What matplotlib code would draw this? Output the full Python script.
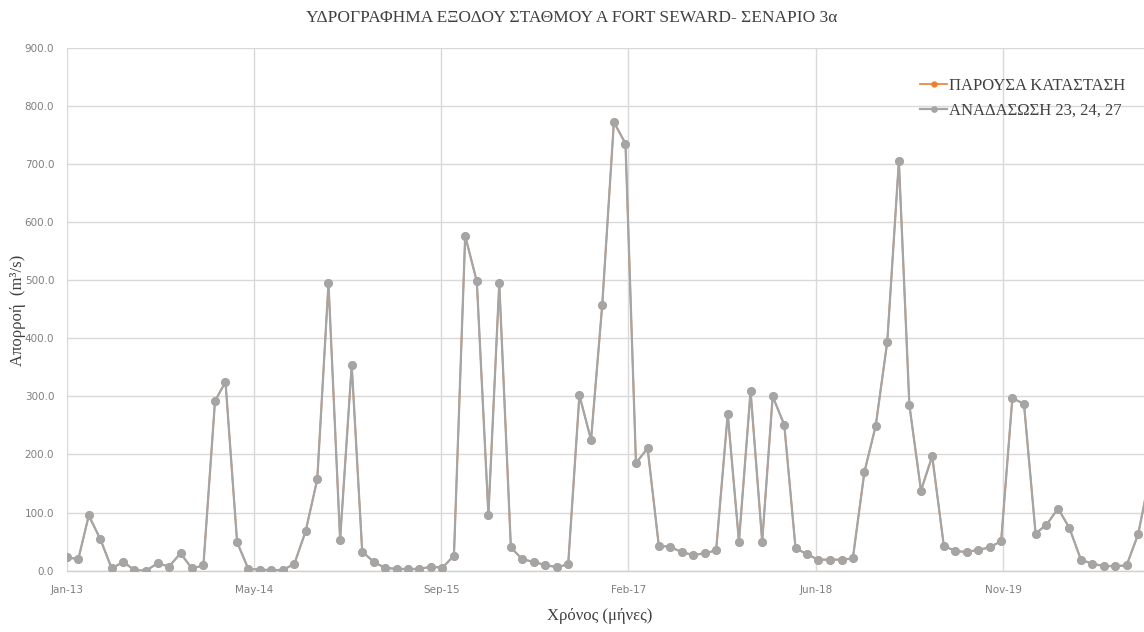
import matplotlib
matplotlib.use("Agg")
import matplotlib.pyplot as plt
import matplotlib.dates as mdates
import pandas as pd

# Monthly outflow series, Jan 2013 - Dec 2020 (m^3/s)
start_date = "2013-01-01"
n_months = 96
current_state = [23, 20, 95, 54, 4, 15, 1, 0, 13, 7, 30, 4, 9, 292, 325, 49, 3, 2, 1, 1, 12,
                 68, 157, 495, 53, 354, 33, 15, 5, 3, 3, 3, 7, 5, 26, 576, 498, 96, 495, 40,
                 20, 15, 10, 6, 11,
                 302, 225, 458, 772, 735, 185, 211, 43, 41, 32, 27, 30, 35, 270, 50, 309, 50,
                 300, 251, 39, 28, 19, 19, 19, 21,
                 170, 249, 394, 705, 285, 138, 197, 43, 34, 32, 36, 40, 51, 297, 287, 64, 79,
                 107, 74, 19, 12, 8, 8, 9, 63, 160]
reforestation = list(current_state)

series_names = ["ΠΑΡΟΥΣΑ ΚΑΤΑΣΤΑΣΗ", "ΑΝΑΔΑΣΩΣΗ 23, 24, 27"]
series_colors = ["#ED7D31", "#A5A5A5"]
title = "ΥΔΡΟΓΡΑΦΗΜΑ ΕΞΟΔΟΥ ΣΤΑΘΜΟΥ Α FORT SEWARD- ΣΕΝΑΡΙΟ 3α"
x_label = "Χρόνος (μήνες)"
y_label = "Απορροή  (m³/s)"
y_ticks = [0, 100, 200, 300, 400, 500, 600, 700, 800, 900]
tick_step_days = 500
n_xticks = 6

dates = pd.date_range(start_date, periods=n_months, freq="MS")
t0 = pd.Timestamp(start_date)

fig = plt.figure(figsize=(11.44, 6.32), dpi=100)
W, H = 1144, 632
left_px, right_px, top_px, bottom_px = 66.7, 1144, 47.7, 570.7
ax = fig.add_axes([left_px / W, 1 - bottom_px / H,
                   (right_px - left_px) / W, (bottom_px - top_px) / H])

ax.plot(dates, current_state, color=series_colors[0], lw=1.2, marker="o",
        ms=5.0, label=series_names[0], zorder=3)
ax.plot(dates, reforestation, color=series_colors[1], lw=1.6, marker="o",
        ms=5.5, label=series_names[1], zorder=4)

# date axis: ticks every 500 days from the first month
xticks = [t0 + pd.Timedelta(days=tick_step_days * i) for i in range(n_xticks)]
ax.set_xticks(xticks)
ax.xaxis.set_major_formatter(mdates.DateFormatter("%b-%y"))
px_per_day = (1003.0 - 66.7) / 2500.0
ax.set_xlim(t0, t0 + pd.Timedelta(days=(right_px - left_px) / px_per_day))

ax.set_ylim(0, 900)
ax.set_yticks(y_ticks)
ax.set_yticklabels([f"{v:.1f}" for v in y_ticks])

tick_font = ["Liberation Sans Narrow", "DejaVu Sans"]
for lbl in ax.get_xticklabels() + ax.get_yticklabels():
    lbl.set_family(tick_font)
    lbl.set_fontsize(7.5)
    lbl.set_color("#7f7f7f")
ax.tick_params(axis="both", length=0, pad=9)
ax.tick_params(axis="x", pad=10)

ax.grid(True, color="#d9d9d9", lw=1.0)
ax.set_axisbelow(True)
for s in ["top", "right", "left"]:
    ax.spines[s].set_visible(False)
ax.spines["bottom"].set_color("#d0d0d0")
ax.spines["bottom"].set_linewidth(1.0)

serif = ["Liberation Serif", "DejaVu Serif"]
fig.text(572 / W, 1 - 18 / H, title, ha="center", va="center",
         family=serif, fontsize=12.5, color="#404040")
fig.text(600 / W, 1 - 616 / H, x_label, ha="center", va="center",
         family=serif, fontsize=12, color="#404040")
fig.text(18 / W, 1 - 310 / H, y_label, ha="center", va="center", rotation=90,
         family=serif, fontsize=12, color="#404040")

leg = ax.legend(loc="upper right", bbox_to_anchor=(1140 / W, 1 - 63 / H),
                bbox_transform=fig.transFigure, frameon=False,
                prop={"family": serif, "size": 12}, handlelength=1.6,
                handletextpad=0.1, labelspacing=0.5, markerscale=0.7)
for t in leg.get_texts():
    t.set_color("#404040")

fig.savefig("out.png", dpi=100)
